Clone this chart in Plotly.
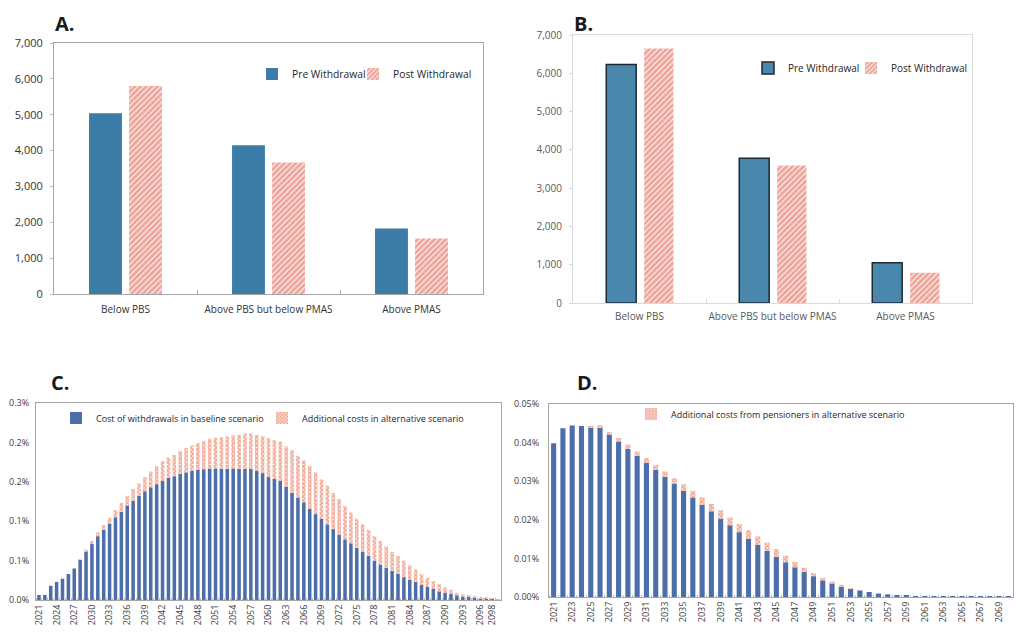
import plotly.graph_objects as go

# ---------------- data ----------------
categories = ["Below PBS", "Above PBS but below PMAS", "Above PMAS"]
a_pre = [5040, 4150, 1830]
a_post = [5800, 3670, 1550]
b_pre = [6230, 3780, 1050]
b_post = [6650, 3590, 790]

c_years = list(range(2021, 2100))
c_base = [0.0064, 0.0064, 0.018, 0.023, 0.027, 0.033, 0.040, 0.051, 0.062, 0.071,
          0.081, 0.089, 0.097, 0.105, 0.112, 0.120, 0.126, 0.132, 0.138, 0.143,
          0.147, 0.151, 0.155, 0.157, 0.160, 0.162, 0.164, 0.165, 0.166, 0.167,
          0.167, 0.1665, 0.1665, 0.167, 0.1665, 0.1665, 0.1665, 0.1636, 0.161, 0.156,
          0.154, 0.151, 0.144, 0.136, 0.130, 0.124, 0.116, 0.109, 0.103, 0.096,
          0.090, 0.083, 0.077, 0.072, 0.066, 0.061, 0.056, 0.050, 0.045, 0.041,
          0.037, 0.033, 0.029, 0.026, 0.023, 0.019, 0.017, 0.014, 0.011, 0.009,
          0.008, 0.006, 0.005, 0.004, 0.003, 0.0025, 0.002, 0.0015, 0.0003]
c_extra = [0, 0, 0, 0, 0, 0, 0, 0.001, 0.002, 0.004,
           0.005, 0.006, 0.007, 0.009, 0.011, 0.012, 0.015, 0.016, 0.018, 0.020,
           0.023, 0.025, 0.026, 0.027, 0.029, 0.031, 0.032, 0.034, 0.036, 0.038,
           0.039, 0.040, 0.041, 0.042, 0.043, 0.045, 0.045, 0.046, 0.047, 0.0495,
           0.049, 0.050, 0.051, 0.054, 0.053, 0.053, 0.054, 0.053, 0.050, 0.049,
           0.046, 0.045, 0.042, 0.039, 0.037, 0.035, 0.033, 0.031, 0.030, 0.027,
           0.024, 0.023, 0.021, 0.018, 0.016, 0.014, 0.011, 0.010, 0.009, 0.007,
           0.005, 0.003, 0.002, 0.002, 0.002, 0.0015, 0.001, 0.0005, 0.0002]
c_tick_years = list(range(2021, 2097, 3)) + [2098]
c_tickvals = [0, 0.05, 0.10, 0.15, 0.20, 0.25]
c_ticktext = ["0.0%", "0.1%", "0.1%", "0.2%", "0.2%", "0.3%"]

d_years = list(range(2021, 2071))
d_base = [0.0398, 0.0437, 0.0444, 0.0443, 0.0440, 0.0440, 0.0421, 0.0403, 0.0384, 0.0366,
          0.0347, 0.0329, 0.0311, 0.0294, 0.0275, 0.0258, 0.0239, 0.0222, 0.0203, 0.0186,
          0.0168, 0.0151, 0.0135, 0.0120, 0.0104, 0.0090, 0.0077, 0.0065, 0.0054, 0.0043,
          0.0035, 0.0028, 0.0022, 0.0017, 0.0013, 0.0009, 0.0007, 0.0005, 0.0003, 0.0002,
          0.0001, 0.00005, 0.00005, 0.00005, 0.00005, 0.00005, 0.00005, 0.00005, 0.00005, 0.00005]
d_extra = [0, 0, 0, 0, 0.0002, 0.0005, 0.0006, 0.0009, 0.0011, 0.0011,
           0.0013, 0.0013, 0.0014, 0.0014, 0.0017, 0.0017, 0.0019, 0.0019, 0.0022, 0.0020,
           0.0021, 0.0022, 0.0022, 0.0021, 0.0020, 0.0017, 0.0014, 0.0011, 0.0008, 0.0007,
           0.0005, 0.0004, 0.0001, 0, 0, 0, 0, 0, 0, 0,
           0, 0, 0, 0, 0, 0, 0, 0, 0, 0]
d_tick_years = list(range(2021, 2071, 2))
d_tickvals = [0, 0.01, 0.02, 0.03, 0.04, 0.05]
d_ticktext = ["0.00%", "0.01%", "0.02%", "0.03%", "0.04%", "0.05%"]

# ---------------- style ----------------
FONT = "Open Sans"
OX, OY = 8, 8            # page body margin of the host page
W, H = 1024 - OX, 635 - OY
BLUE_A = "#3b7da6"
BLUE_B = "#4987ad"
BLUE_CD = "#4c6fa9"
RED = "#dc4a35"
RED_CD = "#e65a35"


def px_x(a, b):
    return [(a - OX) / W, (b - OX) / W]


def px_y(top, bottom):
    return [1 - (bottom - OY) / H, 1 - (top - OY) / H]


def pxx(x):
    return (x - OX) / W


def pxy(y):
    return 1 - (y - OY) / H


fig = go.Figure()

stripe = dict(shape="/", fgcolor=RED, bgcolor="white", size=4, solidity=0.75)
check = dict(shape="x", fgcolor=RED_CD, bgcolor="white", size=3, solidity=0.8)

# Panel A
fig.add_trace(go.Bar(x=categories, y=a_pre, name="Pre Withdrawal", xaxis="x", yaxis="y",
                     marker=dict(color=BLUE_A, line=dict(width=0)), width=0.23, offset=-0.255,
                     legend="legend"))
fig.add_trace(go.Bar(x=categories, y=a_post, name="Post Withdrawal", xaxis="x", yaxis="y",
                     marker=dict(color="white", pattern=stripe, line=dict(width=0)),
                     width=0.23, offset=0.025, legend="legend2"))
# Panel B
fig.add_trace(go.Bar(x=categories, y=b_pre, name="Pre Withdrawal", xaxis="x2", yaxis="y2",
                     marker=dict(color=BLUE_B, line=dict(width=1.5, color="#1c2a36")),
                     width=0.225, offset=-0.25, legend="legend3"))
fig.add_trace(go.Bar(x=categories, y=b_post, name="Post Withdrawal", xaxis="x2", yaxis="y2",
                     marker=dict(color="white", pattern=stripe, line=dict(width=0)),
                     width=0.22, offset=0.035, legend="legend4"))
# Panel C
fig.add_trace(go.Bar(x=c_years, y=c_base, name="Cost of withdrawals in baseline scenario",
                     xaxis="x3", yaxis="y3", marker=dict(color=BLUE_CD, line=dict(width=0)),
                     width=0.6, offset=-0.3, legend="legend5"))
fig.add_trace(go.Bar(x=c_years, y=c_extra, base=c_base, name="Additional costs in alternative scenario",
                     xaxis="x3", yaxis="y3",
                     marker=dict(color="white", pattern=check, line=dict(width=0)),
                     width=0.6, offset=-0.3, legend="legend6"))
# Panel D
fig.add_trace(go.Bar(x=d_years, y=d_base, name="Pensioners baseline", showlegend=False,
                     xaxis="x4", yaxis="y4", marker=dict(color=BLUE_CD, line=dict(width=0)),
                     width=0.55, offset=-0.275))
fig.add_trace(go.Bar(x=d_years, y=d_extra, base=d_base,
                     name="Additional costs from pensioners in alternative scenario",
                     xaxis="x4", yaxis="y4",
                     marker=dict(color="white", pattern=check, line=dict(width=0)),
                     width=0.55, offset=-0.275, legend="legend7"))

frame_common = dict(showline=True, mirror=True, zeroline=False, showgrid=False, automargin=False)

layout = dict(
    width=W, height=H, margin=dict(l=0, r=0, t=0, b=0, autoexpand=False),
    paper_bgcolor="white", plot_bgcolor="white", barmode="overlay",
    font=dict(family=FONT, color="#404040", size=11),
    xaxis=dict(domain=px_x(54, 483), anchor="y", type="category", linecolor="#a6a6a6",
               tickson="boundaries", ticks="inside", ticklen=4, tickcolor="#a6a6a6",
               tickangle=0, ticklabelstandoff=6,
               tickfont=dict(size=10, color="#333333"), **frame_common),
    yaxis=dict(domain=px_y(43, 294), anchor="x", range=[0, 7000], dtick=1000,
               tickformat=",", linecolor="#a6a6a6", ticks="outside", ticklen=3,
               tickcolor="#bfbfbf", ticklabelstandoff=5,
               tickfont=dict(size=11, color="#333333"), **frame_common),
    xaxis2=dict(domain=px_x(573, 972), anchor="y2", type="category", linecolor="#d9d9d9",
                tickson="boundaries", ticks="inside", ticklen=4, tickcolor="#d9d9d9",
                tickangle=0, ticklabelstandoff=4,
                tickfont=dict(size=10, color="#595959"), **frame_common),
    yaxis2=dict(domain=px_y(35, 303), anchor="x2", range=[0, 7000], dtick=1000,
                tickformat=",", linecolor="#d9d9d9", ticks="outside", ticklen=3,
                tickcolor="#d9d9d9", ticklabelstandoff=5,
                tickfont=dict(size=10, color="#595959"), **frame_common),
    xaxis3=dict(domain=px_x(36, 501), anchor="y3", range=[2020.5, 2099.5],
                tickvals=c_tick_years, ticktext=[str(y) for y in c_tick_years],
                tickangle=-90, ticks="", linecolor="#a6a6a6",
                minor=dict(tickvals=[y - 0.5 for y in c_years], ticks="inside", ticklen=2,
                           tickcolor="#bfbfbf"),
                tickfont=dict(size=9, color="#404040"), **frame_common),
    yaxis3=dict(domain=px_y(403, 600), anchor="x3", range=[0, 0.25],
                tickvals=c_tickvals, ticktext=c_ticktext, linecolor="#a6a6a6",
                ticklabelstandoff=4, tickfont=dict(size=9, color="#404040"), **frame_common),
    xaxis4=dict(domain=px_x(549, 1013), anchor="y4", range=[2020.5, 2070.5],
                tickvals=d_tick_years, ticktext=[str(y) for y in d_tick_years],
                tickangle=-90, ticks="", linecolor="#a6a6a6",
                minor=dict(tickvals=[y - 0.5 for y in d_years], ticks="inside", ticklen=2,
                           tickcolor="#bfbfbf"),
                tickfont=dict(size=9, color="#404040"), **frame_common),
    yaxis4=dict(domain=px_y(404, 597), anchor="x4", range=[0, 0.05],
                tickvals=d_tickvals, ticktext=d_ticktext, linecolor="#a6a6a6",
                ticklabelstandoff=7, tickfont=dict(size=9, color="#404040"), **frame_common),
)


def leg(xpx, ypx, size):
    return dict(x=pxx(xpx), y=pxy(ypx), xanchor="left", yanchor="middle",
                orientation="h", bgcolor="rgba(0,0,0,0)",
                font=dict(size=size, color="#262626", family=FONT))


layout["legend"] = leg(252, 74, 10.3)
layout["legend2"] = leg(353, 74, 10.3)
layout["legend3"] = leg(748, 68, 10)
layout["legend4"] = leg(851, 68, 10)
layout["legend5"] = leg(56, 418, 9)
layout["legend6"] = leg(262, 418, 9)
layout["legend7"] = leg(631, 414, 9)

fig.update_layout(**layout)

for txt, xpx, yanchor_y in [("A.", 53, OY), ("B.", 572, OY), ("C.", 49, 367), ("D.", 575, 367)]:
    fig.add_annotation(text="<b>" + txt + "</b>", x=pxx(xpx), y=pxy(yanchor_y), xref="paper",
                       yref="paper", xanchor="left", yanchor="top", showarrow=False,
                       font=dict(size=20, color="#1a1a1a", family=FONT))

fig.write_html("out.html")
